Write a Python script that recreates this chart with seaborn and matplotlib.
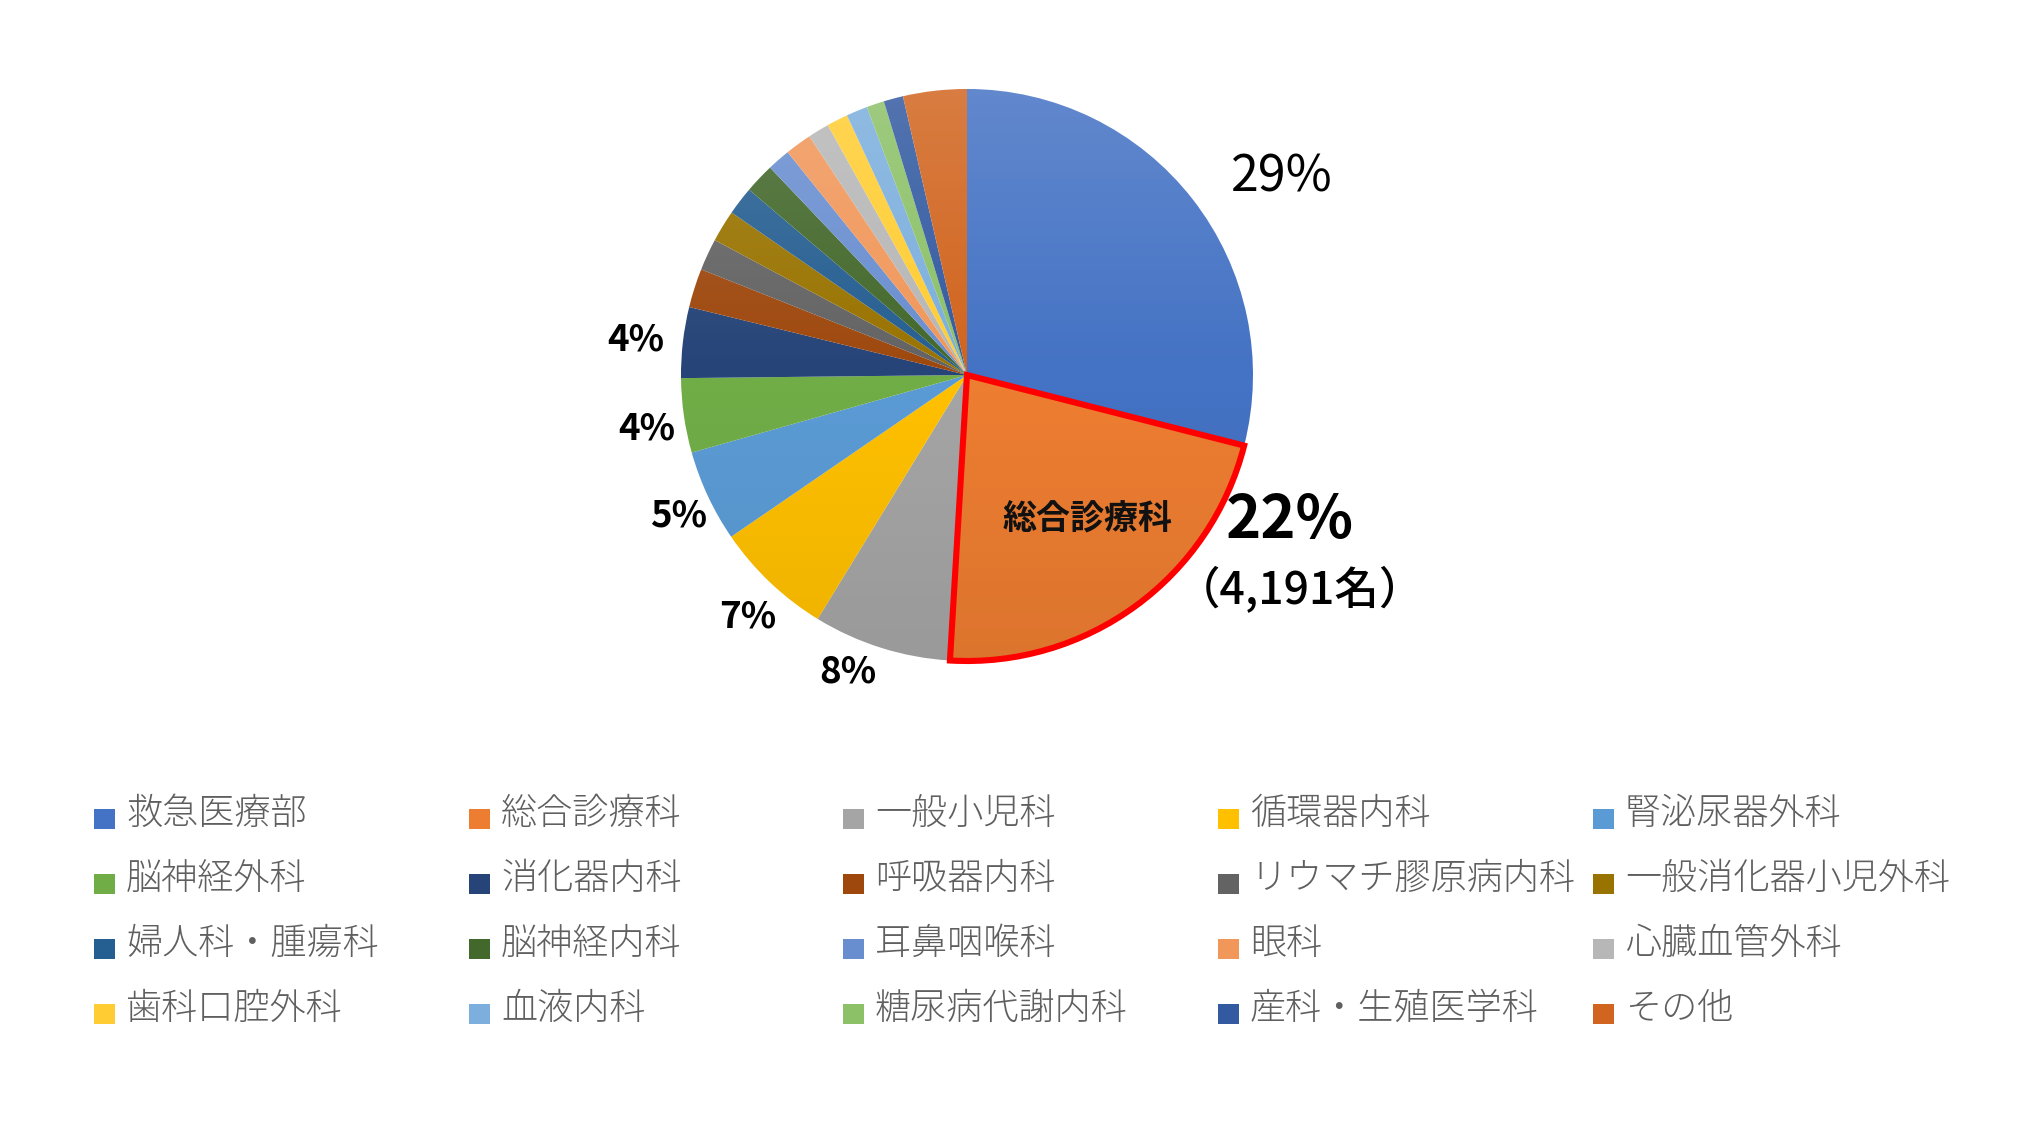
import numpy as np
import seaborn as sns
import matplotlib.pyplot as plt
from matplotlib.patches import Circle, Wedge, Rectangle

# Departments (clockwise from 12 o'clock) and share of people (%)
departments = ['救急医療部', '総合診療科', '一般小児科', '循環器内科', '腎泌尿器外科',
               '脳神経外科', '消化器内科', '呼吸器内科', 'リウマチ膠原病内科', '一般消化器小児外科',
               '婦人科・腫瘍科', '脳神経内科', '耳鼻咽喉科', '眼科', '心臓血管外科',
               '歯科口腔外科', '血液内科', '糖尿病代謝内科', '産科・生殖医学科', 'その他']
shares = [29.0, 22.0, 7.8, 6.7, 5.2,
          4.2, 4.0, 2.2, 1.8, 1.8,
          1.6, 1.7, 1.3, 1.5, 1.2,
          1.2, 1.2, 1.0, 1.1, 3.6]
colors = ['#4472C4', '#ED7D31', '#A5A5A5', '#FFC000', '#5B9BD5',
          '#70AD47', '#264478', '#9E480E', '#636363', '#997300',
          '#255E91', '#43682B', '#698ED0', '#F1975A', '#B7B7B7',
          '#FFCD33', '#7CAFDD', '#8CC168', '#335AA1', '#D1641E']
highlight = '総合診療科'
highlight_count = '（4,191名）'

# which wedges get a percent label, and where (pie radius units)
label_idx = [0, 1, 2, 3, 4, 5, 6]
label_pos = [(1.101, 0.689), (1.129, -0.510), (-0.416, -1.038), (-0.766, -0.846),
             (-1.007, -0.493), (-1.119, -0.189), (-1.157, 0.122)]

sns.set_theme(style='white')
plt.rcParams['font.family'] = ['Noto Sans CJK JP', 'DejaVu Sans']

W, H = 2030, 1148
cx, cy, R = 967, 375, 286  # pie centre / radius in pixels

fig = plt.figure(figsize=(W / 100, H / 100), dpi=100)
ax = fig.add_axes([0, 0, 1, 1])

wedges, _ = ax.pie(shares, colors=colors, startangle=90, counterclock=False,
                   radius=1, wedgeprops=dict(linewidth=0))

# soft vertical shading like the office chart
t = np.linspace(0, 1, 256)[:, None]
grad = np.zeros((256, 2, 4))
grad[..., :3] = np.where(t < 0.5, 1.0, 0.0)[..., None]
grad[..., 3] = np.where(t < 0.5, 0.16 * (1 - 2 * t), 0.07 * (2 * t - 1))
img = ax.imshow(grad, extent=[-1, 1, -1, 1], zorder=3, interpolation='bicubic')
img.set_clip_path(Circle((0, 0), 1, transform=ax.transData))

# red outline on the highlighted wedge
hw = wedges[departments.index(highlight)]
ax.add_patch(Wedge((0, 0), 1, hw.theta1, hw.theta2, facecolor='none',
                   edgecolor='#FF0000', linewidth=4.4, joinstyle='miter', zorder=5))

ax.set_xlim(-cx / R, (W - cx) / R)
ax.set_ylim(-(H - cy) / R, cy / R)
ax.set_aspect('equal')
ax.axis('off')

total = sum(shares)
for i, (x, y) in zip(label_idx, label_pos):
    pct = f'{round(shares[i] / total * 100)}%'
    if i == 0:
        ax.text(x, y, pct, fontsize=36, ha='center', va='center', color='black', zorder=6)
    elif i == 1:
        ax.text(x, y, pct, fontsize=43, fontweight='bold', ha='center', va='center',
                color='black', zorder=6)
    else:
        ax.text(x, y, pct, fontsize=26.5, fontweight='bold', ha='center', va='center',
                color='black', zorder=6)

ax.text(1.164, -0.755, highlight_count, fontsize=32, fontweight='medium', ha='center',
        va='center', color='black', zorder=6)
ax.text(0.420, -0.503, highlight, fontsize=24.5, fontweight='bold', ha='center',
        va='center', color='#111111', zorder=6)

# legend: 5 columns filled row by row
col_x = [94, 469, 843, 1218, 1593]
row_y = [814, 879, 944, 1009]
for k, (name, c) in enumerate(zip(departments, colors)):
    r, cidx = divmod(k, 5)
    x0, y0 = col_x[cidx], row_y[r]
    fig.patches.append(Rectangle((x0 / W, 1 - (y0 + 15) / H), 21 / W, 20 / H,
                                 facecolor=c, edgecolor='none', transform=fig.transFigure))
    fig.text((x0 + 32) / W, 1 - y0 / H, name, fontsize=26, fontweight='light',
             color='#5f5f5f', ha='left', va='center')

fig.savefig('out.png', dpi=100, facecolor='white')
